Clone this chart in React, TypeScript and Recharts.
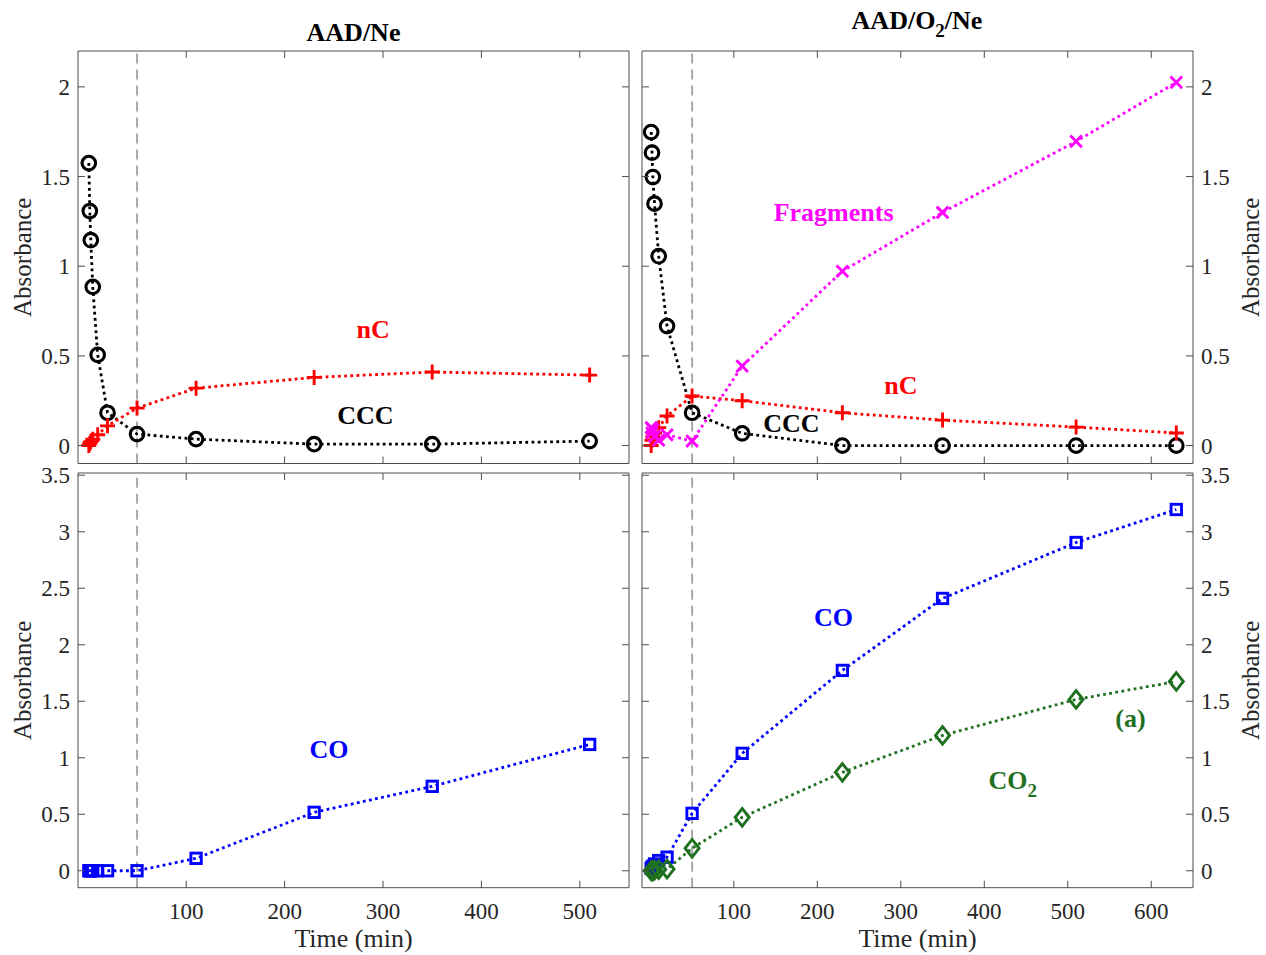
import React from 'react';
import { LineChart, Line, XAxis, YAxis, ReferenceLine, ReferenceDot } from 'recharts';

// ---------- data ----------
const timesNe = [1, 2, 3, 5, 10, 20, 50, 110, 230, 350, 510];
const cccNe = [1.575, 1.308, 1.145, 0.885, 0.506, 0.183, 0.064, 0.036, 0.008, 0.008, 0.025];
const ncNe = [0.0, 0.012, 0.022, 0.035, 0.06, 0.11, 0.209, 0.32, 0.38, 0.41, 0.393];
const coNe = [0, 0, 0, 0, 0, 0, 0, 0.11, 0.517, 0.747, 1.118];

const timesO2 = [1, 2, 3, 5, 10, 20, 50, 110, 230, 350, 510, 630];
const cccO2 = [1.748, 1.633, 1.497, 1.349, 1.056, 0.666, 0.183, 0.068, 0.0, 0.0, 0.0, 0.0];
const ncO2 = [0.0, 0.03, 0.05, 0.07, 0.1, 0.165, 0.276, 0.25, 0.183, 0.142, 0.103, 0.07];
const fragO2 = [0.1, 0.07, 0.09, 0.05, 0.03, 0.06, 0.025, 0.443, 0.972, 1.3, 1.696, 2.025];
const coO2 = [0.02, 0.03, 0.04, 0.06, 0.09, 0.12, 0.508, 1.039, 1.773, 2.41, 2.905, 3.197];
const co2O2 = [0.0, 0.0, 0.0, 0.005, 0.01, 0.015, 0.199, 0.473, 0.871, 1.198, 1.516, 1.675];

const xTicksNe = [100, 200, 300, 400, 500];
const xTicksO2 = [100, 200, 300, 400, 500, 600];
const yTicksTop = [0, 0.5, 1, 1.5, 2];
const yTicksBottom = [0, 0.5, 1, 1.5, 2, 2.5, 3, 3.5];

const xDomainNe: [number, number] = [-10, 550];
const xDomainO2: [number, number] = [-10, 650];
const yDomainTop: [number, number] = [-0.1, 2.2];
const yDomainBottom: [number, number] = [-0.15, 3.52];

const guideTime = 50;

const rowsTopNe = timesNe.map((t, i) => ({ t, ccc: cccNe[i], nc: ncNe[i] }));
const rowsBotNe = timesNe.map((t, i) => ({ t, co: coNe[i] }));
const rowsTopO2 = timesO2.map((t, i) => ({ t, ccc: cccO2[i], nc: ncO2[i], frag: fragO2[i] }));
const rowsBotO2 = timesO2.map((t, i) => ({ t, co: coO2[i], co2: co2O2[i] }));

// ---------- style ----------
const W = 1266;
const H = 955;
const FONT = "'Liberation Serif', 'Times New Roman', serif";
const AXIS = '#4d4d4d';
const TXT = '#262626';
const RED = '#ff0000';
const MAG = '#ff00ff';
const BLUE = '#0000ff';
const GREEN = '#1f701f';
const BLACK = '#000000';

type Kind = 'circle' | 'plus' | 'x' | 'square' | 'diamond';

function Marker({ kind, cx, cy, color }: { kind: Kind; cx: number; cy: number; color: string }) {
  const sw = 2.9;
  if (kind === 'circle') return <circle cx={cx} cy={cy} r={6.8} fill="none" stroke={color} strokeWidth={3.1} />;
  if (kind === 'plus')
    return (
      <path d={`M${cx - 7.5},${cy}H${cx + 7.5}M${cx},${cy - 7.5}V${cy + 7.5}`} stroke={color} strokeWidth={sw} fill="none" />
    );
  if (kind === 'x')
    return (
      <path
        d={`M${cx - 5.8},${cy - 5.8}L${cx + 5.8},${cy + 5.8}M${cx - 5.8},${cy + 5.8}L${cx + 5.8},${cy - 5.8}`}
        stroke={color}
        strokeWidth={sw}
        fill="none"
      />
    );
  if (kind === 'square')
    return <rect x={cx - 5.2} y={cy - 5.2} width={10.4} height={10.4} stroke={color} strokeWidth={sw} fill="none" />;
  return (
    <path
      d={`M${cx},${cy - 8.8}L${cx + 7},${cy}L${cx},${cy + 8.8}L${cx - 7},${cy}Z`}
      stroke={color}
      strokeWidth={sw}
      fill="none"
    />
  );
}

const makeDot = (kind: Kind, color: string) => (props: any) => {
  const { cx, cy, index } = props;
  if (cx == null || cy == null) return <g key={`d${index}`} />;
  return (
    <g key={`d${index}`}>
      <Marker kind={kind} cx={cx} cy={cy} color={color} />
    </g>
  );
};

type Side = 'bottom' | 'top' | 'left' | 'right';
const TICK_LEN = 7;
const TICK_FONT = 23;

const makeTick = (side: Side, show: boolean) => (props: any) => {
  const { x, y, payload } = props;
  const label = String(payload.value);
  let line = null as any;
  let text = null as any;
  if (side === 'bottom') {
    line = <line x1={x} y1={y} x2={x} y2={y - TICK_LEN} stroke={AXIS} strokeWidth={1} />;
    if (show)
      text = (
        <text x={x} y={y + 31} textAnchor="middle" fontFamily={FONT} fontSize={TICK_FONT} fill={TXT}>
          {label}
        </text>
      );
  } else if (side === 'top') {
    line = <line x1={x} y1={y} x2={x} y2={y + TICK_LEN} stroke={AXIS} strokeWidth={1} />;
  } else if (side === 'left') {
    line = <line x1={x} y1={y} x2={x + TICK_LEN} y2={y} stroke={AXIS} strokeWidth={1} />;
    if (show)
      text = (
        <text x={x - 8} y={y + 8} textAnchor="end" fontFamily={FONT} fontSize={TICK_FONT} fill={TXT}>
          {label}
        </text>
      );
  } else {
    line = <line x1={x} y1={y} x2={x - TICK_LEN} y2={y} stroke={AXIS} strokeWidth={1} />;
    if (show)
      text = (
        <text x={x + 8} y={y + 8} textAnchor="start" fontFamily={FONT} fontSize={TICK_FONT} fill={TXT}>
          {label}
        </text>
      );
  }
  return (
    <g>
      {line}
      {text}
    </g>
  );
};

const yLabel = (side: 'left' | 'right') => (props: any) => {
  const vb = props.viewBox || {};
  const bx = side === 'left' ? vb.x + vb.width - 47 : vb.x + 66;
  const cy = vb.y + vb.height / 2;
  return (
    <text
      x={bx}
      y={cy}
      transform={`rotate(-90, ${bx}, ${cy})`}
      textAnchor="middle"
      fontFamily={FONT}
      fontSize={25}
      fill={TXT}
    >
      Absorbance
    </text>
  );
};

const xLabel = (props: any) => {
  const vb = props.viewBox || {};
  return (
    <text x={vb.x + vb.width / 2} y={vb.y + 59} textAnchor="middle" fontFamily={FONT} fontSize={26} fill={TXT}>
      Time (min)
    </text>
  );
};

type SeriesDef = { key: string; color: string; kind: Kind };
type Annot = { x: number; y: number; text: string; sub?: string; color: string };

type Box = { l: number; r: number; t: number; b: number };

const AX = 1; // thickness reserved by each (outside-drawn) axis

function Panel(props: {
  rows: any[];
  series: SeriesDef[];
  xDomain: [number, number];
  xTicks: number[];
  yDomain: [number, number];
  yTicks: number[];
  box: Box;
  ySide: 'left' | 'right';
  showX: boolean;
  annots: Annot[];
}) {
  const { rows, series, xDomain, xTicks, yDomain, yTicks, box, ySide, showX, annots } = props;
  const margin = { left: box.l - AX, right: W - box.r - AX, top: box.t - AX, bottom: H - box.b - AX };
  return (
    <div style={{ position: 'absolute', left: 0, top: 0, width: W, height: H }}>
      <LineChart width={W} height={H} data={rows} margin={margin}>
        <XAxis
          xAxisId="b"
          dataKey="t"
          type="number"
          orientation="bottom"
          domain={xDomain}
          ticks={xTicks}
          interval={0}
          height={AX}
          tickSize={0}
          tickMargin={0}
          tickLine={false}
          axisLine={{ stroke: AXIS, strokeWidth: 1 }}
          tick={makeTick('bottom', showX)}
          label={showX ? xLabel : undefined}
          allowDataOverflow
        />
        <XAxis
          xAxisId="t"
          dataKey="t"
          type="number"
          orientation="top"
          domain={xDomain}
          ticks={xTicks}
          interval={0}
          height={AX}
          tickSize={0}
          tickMargin={0}
          tickLine={false}
          axisLine={{ stroke: AXIS, strokeWidth: 1 }}
          tick={makeTick('top', false)}
          allowDataOverflow
        />
        <YAxis
          yAxisId="l"
          type="number"
          orientation="left"
          domain={yDomain}
          ticks={yTicks}
          interval={0}
          width={AX}
          tickSize={0}
          tickMargin={0}
          tickLine={false}
          axisLine={{ stroke: AXIS, strokeWidth: 1 }}
          tick={makeTick('left', ySide === 'left')}
          label={ySide === 'left' ? yLabel('left') : undefined}
          allowDataOverflow
        />
        <YAxis
          yAxisId="r"
          type="number"
          orientation="right"
          domain={yDomain}
          ticks={yTicks}
          interval={0}
          width={AX}
          tickSize={0}
          tickMargin={0}
          tickLine={false}
          axisLine={{ stroke: AXIS, strokeWidth: 1 }}
          tick={makeTick('right', ySide === 'right')}
          label={ySide === 'right' ? yLabel('right') : undefined}
          allowDataOverflow
        />
        <ReferenceLine xAxisId="b" yAxisId="l" x={guideTime} stroke="#555555" strokeWidth={1} strokeDasharray="10 6" />
        {series.map((s) => (
          <Line
            key={s.key}
            xAxisId="b"
            yAxisId="l"
            type="linear"
            dataKey={s.key}
            stroke={s.color}
            strokeWidth={2.8}
            strokeDasharray="2.8 3.4"
            dot={makeDot(s.kind, s.color)}
            activeDot={false}
            isAnimationActive={false}
          />
        ))}
        {annots.map((a, i) => (
          <ReferenceDot
            key={`a${i}`}
            xAxisId="b"
            yAxisId="l"
            x={a.x}
            y={a.y}
            r={0}
            shape={(p: any) => (
              <text
                x={p.cx}
                y={p.cy}
                textAnchor="middle"
                dominantBaseline="central"
                fontFamily={FONT}
                fontWeight="bold"
                fontSize={26}
                fill={a.color}
              >
                {a.text}
                {a.sub ? (
                  <tspan dy={9} fontSize={19}>
                    {a.sub}
                  </tspan>
                ) : null}
              </text>
            )}
          />
        ))}
      </LineChart>
    </div>
  );
}

const boxTL: Box = { l: 78, r: 629, t: 51, b: 463.5 };
const boxTR: Box = { l: 642, r: 1193, t: 51, b: 463.5 };
const boxBL: Box = { l: 78, r: 629, t: 473, b: 887.7 };
const boxBR: Box = { l: 642, r: 1193, t: 473, b: 887.7 };

export default function App() {
  return (
    <div style={{ position: 'absolute', left: 0, top: 0, width: W, height: H, background: '#ffffff', overflow: 'hidden' }}>
      <Panel
        rows={rowsTopNe}
        series={[
          { key: 'ccc', color: BLACK, kind: 'circle' },
          { key: 'nc', color: RED, kind: 'plus' },
        ]}
        xDomain={xDomainNe}
        xTicks={xTicksNe}
        yDomain={yDomainTop}
        yTicks={yTicksTop}
        box={boxTL}
        ySide="left"
        showX={false}
        annots={[
          { x: 290, y: 0.649, text: 'nC', color: RED },
          { x: 282, y: 0.17, text: 'CCC', color: BLACK },
        ]}
      />
      <Panel
        rows={rowsBotNe}
        series={[{ key: 'co', color: BLUE, kind: 'square' }]}
        xDomain={xDomainNe}
        xTicks={xTicksNe}
        yDomain={yDomainBottom}
        yTicks={yTicksBottom}
        box={boxBL}
        ySide="left"
        showX={true}
        annots={[{ x: 245, y: 1.07, text: 'CO', color: BLUE }]}
      />
      <Panel
        rows={rowsTopO2}
        series={[
          { key: 'ccc', color: BLACK, kind: 'circle' },
          { key: 'nc', color: RED, kind: 'plus' },
          { key: 'frag', color: MAG, kind: 'x' },
        ]}
        xDomain={xDomainO2}
        xTicks={xTicksO2}
        yDomain={yDomainTop}
        yTicks={yTicksTop}
        box={boxTR}
        ySide="right"
        showX={false}
        annots={[
          { x: 219.5, y: 1.3, text: 'Fragments', color: MAG },
          { x: 300, y: 0.337, text: 'nC', color: RED },
          { x: 169, y: 0.125, text: 'CCC', color: BLACK },
        ]}
      />
      <Panel
        rows={rowsBotO2}
        series={[
          { key: 'co', color: BLUE, kind: 'square' },
          { key: 'co2', color: GREEN, kind: 'diamond' },
        ]}
        xDomain={xDomainO2}
        xTicks={xTicksO2}
        yDomain={yDomainBottom}
        yTicks={yTicksBottom}
        box={boxBR}
        ySide="right"
        showX={true}
        annots={[
          { x: 219.5, y: 2.24, text: 'CO', color: BLUE },
          { x: 434, y: 0.795, text: 'CO', sub: '2', color: GREEN },
          { x: 575, y: 1.343, text: '(a)', color: GREEN },
        ]}
      />
      <svg width={W} height={H} style={{ position: 'absolute', left: 0, top: 0, pointerEvents: 'none' }}>
        <text x={353.5} y={41} textAnchor="middle" fontFamily={FONT} fontWeight="bold" fontSize={26} fill={BLACK}>
          AAD/Ne
        </text>
        <text x={917} y={29} textAnchor="middle" fontFamily={FONT} fontWeight="bold" fontSize={26} fill={BLACK}>
          AAD/O
          <tspan dy={8} fontSize={19}>
            2
          </tspan>
          <tspan dy={-8}>/Ne</tspan>
        </text>
      </svg>
    </div>
  );
}
